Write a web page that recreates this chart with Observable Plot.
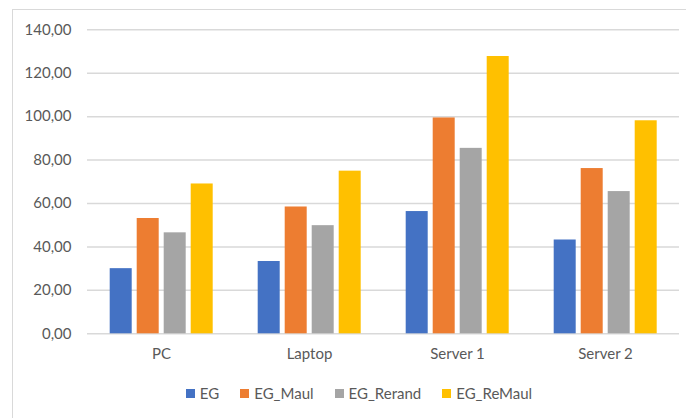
<!DOCTYPE html>
<html>
<head>
<meta charset="utf-8">
<script src="https://cdn.jsdelivr.net/npm/d3@7"></script>
<script src="https://cdn.jsdelivr.net/npm/@observablehq/plot@0.6"></script>
<style>
  html, body { margin: 0; padding: 0; background: #fff; }
  #wrap { position: relative; width: 686px; height: 418px; overflow: hidden; font-family: Lato, "Open Sans", sans-serif; }
  #frame { position: absolute; left: 12px; top: 9px; right: -2px; bottom: -2px; border-left: 1.5px solid #d9d9d9; border-top: 1.5px solid #d9d9d9; }
  #chart { position: absolute; left: 0; top: 0; }
  #legend { position: absolute; left: 0; top: 384px; width: 718px; display: flex; justify-content: center; gap: 21px; font-size: 15px; color: #595959; }
  .item { display: flex; align-items: center; }
  .sw { width: 9px; height: 9px; margin-right: 5px; }
</style>
</head>
<body>
<div id="wrap">
  <div id="frame"></div>
  <div id="chart"></div>
  <div id="legend"></div>
</div>
<script>
// Devices on the x axis and the four algorithm variants
const categories = ["PC", "Laptop", "Server 1", "Server 2"];
const seriesNames = ["EG", "EG_Maul", "EG_Rerand", "EG_ReMaul"];
const seriesColors = ["#4472C4", "#ED7D31", "#A5A5A5", "#FFC000"];

// Measured values per device, one array per variant
const eg        = [30.0, 33.3, 56.3, 43.2];
const egMaul    = [53.1, 58.4, 99.4, 76.1];
const egRerand  = [46.5, 49.8, 85.4, 65.5];
const egReMaul  = [69.0, 74.9, 127.7, 98.1];

const yTicks = [0, 20, 40, 60, 80, 100, 120, 140];

const seriesValues = [eg, egMaul, egRerand, egReMaul];
const rows = [];
categories.forEach((c, i) => {
  seriesNames.forEach((s, j) => rows.push({device: c, variant: s, value: seriesValues[j][i]}));
});

const fmt = d3.formatLocale({decimal: ",", thousands: ".", grouping: [3], currency: ["", ""]}).format(".2f");

const chart = Plot.plot({
  width: 686,
  height: 375,
  marginTop: 29.3,
  marginBottom: 41.7,
  marginLeft: 87.3,
  marginRight: 6.7,
  style: {fontFamily: "Lato, 'Open Sans', sans-serif", fontSize: "15px", color: "#595959", background: "transparent"},
  fx: {domain: categories, padding: 0, label: null},
  x: {domain: seriesNames, paddingInner: 0.2, paddingOuter: 0.84, axis: null},
  y: {domain: [0, 140], ticks: yTicks, label: null},
  color: {domain: seriesNames, range: seriesColors},
  marks: [
    Plot.gridY(yTicks, {stroke: "#d9d9d9", strokeOpacity: 1, strokeWidth: 1.5}),
    Plot.barY(rows, {fx: "device", x: "variant", y: "value", fill: "variant", inset: 0}),
    Plot.axisY(yTicks, {tickSize: 0, tickPadding: 16, tickFormat: fmt, fill: "#595959", label: null}),
    Plot.axisFx({anchor: "bottom", tickSize: 0, tickPadding: 15, fill: "#595959", label: null})
  ]
});
document.getElementById("chart").appendChild(chart);

const legend = d3.select("#legend");
seriesNames.forEach((s, i) => {
  const it = legend.append("div").attr("class", "item");
  it.append("div").attr("class", "sw").style("background", seriesColors[i]);
  it.append("span").text(s);
});
</script>
</body>
</html>
